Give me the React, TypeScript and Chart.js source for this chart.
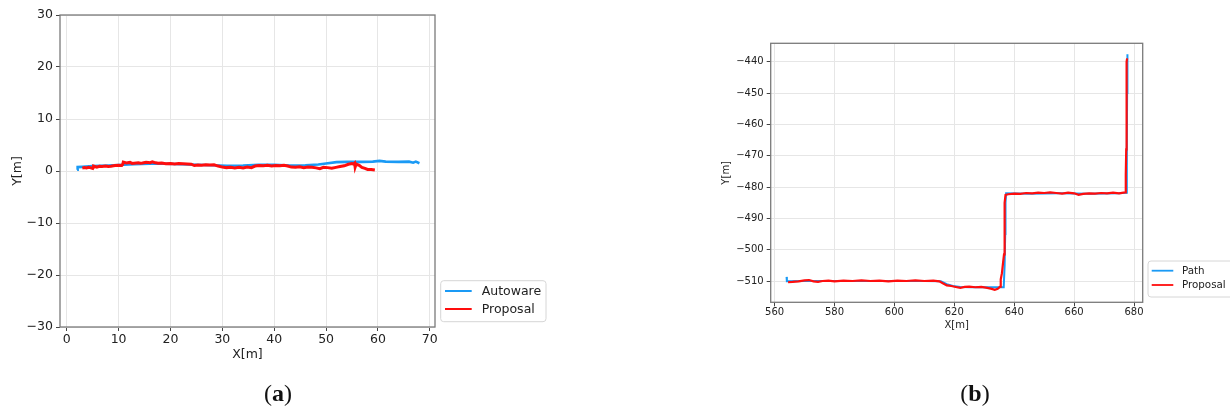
import React, { useEffect, useRef } from 'react';
import { Chart, registerables } from 'chart.js';

Chart.register(...registerables);

// ---------- (a) data ----------
const autowareX = [2.0, 2.1, 3, 5, 8, 10, 13, 16, 19, 22, 25, 28, 31, 34, 37, 40, 43, 46, 48.5, 50, 52, 54, 57, 59, 60.3, 61.5, 64, 66, 66.8, 67.3, 68];
const autowareY = [0.25, 0.75, 0.8, 0.95, 1.05, 1.15, 1.3, 1.4, 1.4, 1.3, 1.2, 1.1, 1.0, 1.05, 1.2, 1.2, 1.05, 1.1, 1.25, 1.45, 1.7, 1.75, 1.75, 1.8, 1.95, 1.8, 1.75, 1.8, 1.6, 1.8, 1.5];

const proposalAX = [3.0, 3.4, 3.8, 4.2, 4.5, 5.0, 5.1, 5.2, 5.8, 6.3, 6.8, 7.5, 8.0, 8.5, 9.3, 10.0, 10.6, 10.8, 10.9, 11.5, 12.2, 12.6, 13.0, 13.8, 14.2, 14.6, 15.3, 16.1, 16.5, 16.9, 17.6, 18.3, 19.1, 20.0, 20.8, 21.6, 22.4, 23.2, 24.0, 24.6, 25.3, 26.0, 26.8, 27.6, 28.4, 29.2, 30.0, 30.8, 31.6, 32.4, 33.2, 34.0, 34.8, 35.6, 36.3, 37.1, 37.9, 38.7, 39.5, 40.3, 41.1, 41.9, 42.6, 43.3, 44.1, 44.9, 45.7, 46.5, 47.3, 48.1, 48.8, 49.5, 50.3, 51.1, 51.9, 52.7, 53.5, 54.3, 55.0, 55.3, 55.5, 55.6, 55.8, 56.1, 56.4, 56.9, 57.5, 58.0, 58.7, 59.4];
const proposalAY = [0.55, 0.65, 0.6, 0.7, 0.65, 0.5, 0.75, 0.95, 0.75, 0.9, 0.85, 0.95, 0.85, 0.9, 1.05, 1.1, 1.05, 1.3, 1.7, 1.55, 1.65, 1.45, 1.5, 1.6, 1.5, 1.55, 1.7, 1.6, 1.75, 1.65, 1.5, 1.55, 1.4, 1.45, 1.35, 1.45, 1.4, 1.35, 1.3, 1.05, 1.15, 1.1, 1.2, 1.15, 1.2, 0.95, 0.75, 0.65, 0.7, 0.6, 0.7, 0.6, 0.75, 0.65, 0.95, 1.05, 1.0, 1.1, 0.95, 1.05, 1.0, 1.1, 0.95, 0.75, 0.7, 0.8, 0.65, 0.75, 0.7, 0.6, 0.45, 0.7, 0.65, 0.55, 0.7, 0.85, 1.0, 1.3, 1.45, 1.3, 1.5, 0.75, 1.35, 1.2, 1.1, 0.7, 0.5, 0.3, 0.3, 0.2];

const xTicksA = [0, 10, 20, 30, 40, 50, 60, 70];
const yTicksA = [-30, -20, -10, 0, 10, 20, 30];

// ---------- (b) data ----------
const pathX = [564.0, 564.1, 570, 580, 590, 600, 610, 615.5, 617.5, 619.5, 622, 626, 630, 634, 636.5, 636.8, 637.0, 637.1, 637.3, 645, 655, 665, 675, 677.4, 677.6, 677.7, 677.8];
const pathY = [-508.7, -510.1, -510.0, -510.0, -510.0, -510.0, -510.0, -510.1, -511.0, -511.6, -511.9, -512.0, -512.0, -512.0, -512.0, -505, -495, -485, -482.0, -482.1, -482.0, -482.1, -482.0, -481.8, -470, -450, -437.6];

const proposalBX = [564.5, 566, 568, 570, 571.5, 573, 574.5, 576, 578, 580, 583, 586, 589, 592, 595, 598, 601, 604, 607, 610, 613, 615, 616.3, 617.5, 619, 620.5, 622, 623.5, 625, 627, 629, 631, 632.5, 633.5, 634.5, 635.3, 635.5, 635.9, 636.3, 636.6, 636.7, 636.8, 636.9, 637.1, 638, 640, 642, 644, 646, 648, 650, 652, 654, 656, 658, 660, 661.5, 663, 665, 667, 669, 671, 673, 675, 677, 677.2, 677.3, 677.4, 677.45, 677.5, 677.55, 677.6, 677.7];
const proposalBY = [-510.4, -510.3, -510.1, -509.8, -509.7, -510.1, -510.3, -510.0, -509.9, -510.1, -509.9, -510.0, -509.8, -510.0, -509.9, -510.1, -509.9, -510.0, -509.8, -510.0, -509.9, -510.1, -510.8, -511.4, -511.6, -511.9, -512.2, -511.9, -511.8, -512.0, -511.9, -512.2, -512.5, -512.8, -512.5, -511.8, -509.5, -507.5, -504, -501.5, -496, -490, -485, -482.5, -482.3, -482.1, -482.2, -481.9, -482.0, -481.8, -481.9, -481.7, -481.9, -482.1, -481.8, -482.0, -482.5, -482.2, -482.0, -482.1, -481.9, -482.0, -481.8, -482.0, -481.7, -481.3, -476, -468, -460, -452, -445, -440, -438.9];

const xTicksB = [560, 580, 600, 620, 640, 660, 680];
const yTicksB = [-510, -500, -490, -480, -470, -460, -450, -440];

const BLUE = '#1a9af5';
const RED = '#ff0d0d';
const FONT = 'DejaVu Sans';

const fmt = (v: number) => (v < 0 ? '\u2212' + Math.abs(v) : String(v));
const pts = (xs: number[], ys: number[]) => xs.map((x, i) => ({ x, y: ys[i] }));

const framePlugin = {
  id: 'frameLegend',
  afterDraw(chart: any, _args: any, o: any) {
    const { ctx, chartArea: a } = chart;
    ctx.save();
    ctx.strokeStyle = '#7a7a7a';
    ctx.lineWidth = 1.3;
    ctx.strokeRect(a.left, a.top, a.right - a.left, a.bottom - a.top);
    const bx = a.right + o.dx;
    const by = a.bottom - o.dyBottom - o.h;
    ctx.beginPath();
    const r = 3;
    ctx.moveTo(bx + r, by);
    ctx.lineTo(bx + o.w - r, by);
    ctx.arcTo(bx + o.w, by, bx + o.w, by + r, r);
    ctx.lineTo(bx + o.w, by + o.h - r);
    ctx.arcTo(bx + o.w, by + o.h, bx + o.w - r, by + o.h, r);
    ctx.lineTo(bx + r, by + o.h);
    ctx.arcTo(bx, by + o.h, bx, by + o.h - r, r);
    ctx.lineTo(bx, by + r);
    ctx.arcTo(bx, by, bx + r, by, r);
    ctx.closePath();
    ctx.fillStyle = 'rgba(255,255,255,0.85)';
    ctx.fill();
    ctx.strokeStyle = '#d6d6d6';
    ctx.lineWidth = 1;
    ctx.stroke();
    ctx.font = `${o.fontSize}px "${FONT}"`;
    ctx.textBaseline = 'middle';
    chart.data.datasets.forEach((ds: any, i: number) => {
      const y = by + o.row0 + i * o.rowH;
      ctx.strokeStyle = ds.borderColor;
      ctx.lineWidth = o.lw;
      ctx.beginPath();
      ctx.moveTo(bx + o.l0, y);
      ctx.lineTo(bx + o.l1, y);
      ctx.stroke();
      ctx.fillStyle = '#222';
      ctx.fillText(ds.label, bx + o.tx, y + 0.5);
    });
    ctx.restore();
  },
};

function makeScale(opts: {
  min: number; max: number; ticks: number[]; title: string; size: number; fit: number; horizontal: boolean; pad: number;
}) {
  return {
    type: 'linear' as const,
    min: opts.min,
    max: opts.max,
    afterBuildTicks: (s: any) => {
      s.ticks = opts.ticks.map((v) => ({ value: v }));
    },
    afterFit: (s: any) => {
      if (opts.horizontal) s.height = opts.fit;
      else s.width = opts.fit;
    },
    ticks: {
      font: { family: FONT, size: opts.size },
      color: '#222',
      padding: opts.pad,
      maxRotation: 0,
      autoSkip: false,
      callback: (v: any) => fmt(Number(v)),
    },
    grid: { color: '#e6e6e6', lineWidth: 1, tickColor: '#444', tickLength: 4 },
    border: { display: false },
    title: {
      display: true,
      text: opts.title,
      color: '#222',
      font: { family: FONT, size: opts.size },
      padding: 0,
    },
  };
}

function useChart(ref: React.RefObject<HTMLCanvasElement>, cfg: () => any) {
  useEffect(() => {
    if (!ref.current) return;
    const c = new Chart(ref.current, cfg());
    return () => c.destroy();
  }, []);
}

export default function App() {
  const refA = useRef<HTMLCanvasElement>(null);
  const refB = useRef<HTMLCanvasElement>(null);

  useChart(refA, () => ({
    type: 'scatter',
    data: {
      datasets: [
        { label: 'Autoware', data: pts(autowareX, autowareY), showLine: true, borderColor: BLUE, backgroundColor: BLUE, borderWidth: 2.6, pointRadius: 0, order: 2 },
        { label: 'Proposal', data: pts(proposalAX, proposalAY), showLine: true, borderColor: RED, backgroundColor: RED, borderWidth: 3, pointRadius: 0, order: 1 },
      ],
    },
    options: {
      animation: false,
      responsive: false,
      layout: { padding: { left: 9.8, top: 15, right: 180, bottom: 47.8 } },
      scales: {
        x: makeScale({ min: -1.3, max: 71.0, ticks: xTicksA, title: 'X[m]', size: 12.5, fit: 35.2, horizontal: true, pad: 1 }),
        y: makeScale({ min: -30, max: 30, ticks: yTicksA, title: 'Y[m]', size: 12.5, fit: 50.2, horizontal: false, pad: 3 }),
      },
      plugins: {
        legend: { display: false },
        tooltip: { enabled: false },
        frameLegend: { dx: 5.7, dyBottom: 5.3, w: 105.3, h: 41, row0: 10.3, rowH: 18, l0: 4.3, l1: 31, tx: 41, fontSize: 12.5, lw: 2 },
      },
    },
    plugins: [framePlugin],
  }));

  useChart(refB, () => ({
    type: 'scatter',
    data: {
      datasets: [
        { label: 'Path', data: pts(pathX, pathY), showLine: true, borderColor: BLUE, backgroundColor: BLUE, borderWidth: 2, pointRadius: 0, order: 2 },
        { label: 'Proposal', data: pts(proposalBX, proposalBY), showLine: true, borderColor: RED, backgroundColor: RED, borderWidth: 2.2, pointRadius: 0, order: 1 },
      ],
    },
    options: {
      animation: false,
      responsive: false,
      layout: { padding: { left: 105.7, top: 43.3, right: 87.3, bottom: 79 } },
      scales: {
        x: makeScale({ min: 558.7, max: 682.9, ticks: xTicksB, title: 'X[m]', size: 10, fit: 28.7, horizontal: true, pad: 0 }),
        y: makeScale({ min: -516.8, max: -434.1, ticks: yTicksB, title: 'Y[m]', size: 10, fit: 50, horizontal: false, pad: 3 }),
      },
      plugins: {
        legend: { display: false },
        tooltip: { enabled: false },
        frameLegend: { dx: 5.3, dyBottom: 5.3, w: 86, h: 36, row0: 9.7, rowH: 14.3, l0: 3.7, l1: 25.3, tx: 34, fontSize: 10.3, lw: 1.8 },
      },
    },
    plugins: [framePlugin],
  }));

  const caption: React.CSSProperties = {
    position: 'absolute',
    top: 378,
    width: 100,
    textAlign: 'center',
    fontFamily: '"Liberation Serif", "DejaVu Serif", serif',
    fontSize: 24,
    color: '#111',
    lineHeight: '30px',
  };

  return (
    <div style={{ position: 'fixed', left: 0, top: 0, width: 1230, height: 410, background: '#fff', overflow: 'hidden' }}>
      <canvas ref={refA} width={615} height={410} style={{ position: 'absolute', left: 0, top: 0 }} />
      <canvas ref={refB} width={615} height={410} style={{ position: 'absolute', left: 615, top: 0 }} />
      <div style={{ ...caption, left: 228 }}>(<b>a</b>)</div>
      <div style={{ ...caption, left: 925 }}>(<b>b</b>)</div>
    </div>
  );
}
